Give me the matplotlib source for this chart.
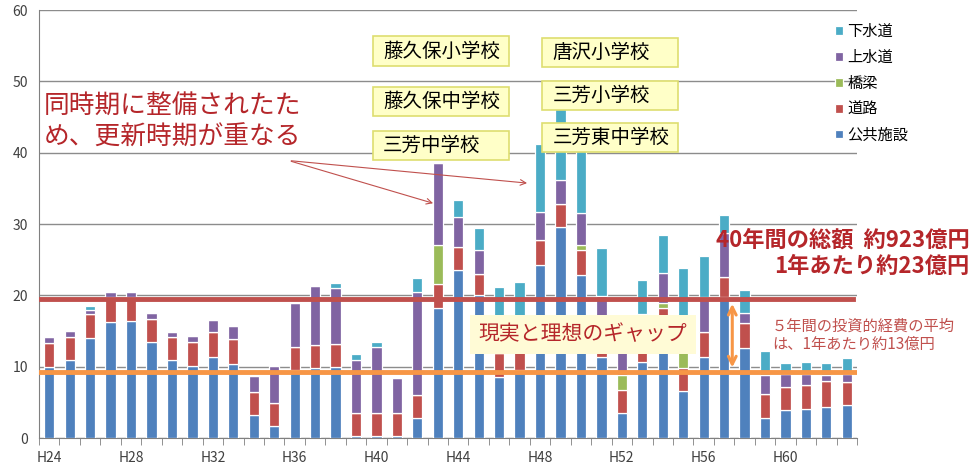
import numpy as np
import matplotlib.pyplot as plt
from matplotlib.patches import FancyArrowPatch, Rectangle

plt.rcParams['font.family'] = ['Noto Sans CJK JP', 'DejaVu Sans']

# -------------------------------
# データ（億円）
# -------------------------------
nendo = ['H%d' % n for n in range(24, 64)]
shisetsu = [9.9, 11.0, 14.0, 16.3, 16.4, 13.5, 11.0, 10.1, 11.4, 10.4,
            3.2, 1.7, 9.5, 9.8, 9.9, 0.3, 0.3, 0.3, 2.8, 18.2,
            23.6, 20.0, 8.6, 9.5, 24.3, 29.6, 22.9, 11.4, 3.5, 10.7,
            15.5, 6.6, 11.4, 19.8, 12.6, 2.8, 3.9, 4.0, 4.4, 4.6]
doro = [3.4, 3.2, 3.4, 3.4, 3.3, 3.2, 3.1, 3.4, 3.5, 3.5,
        3.3, 3.2, 3.3, 3.2, 3.3, 3.2, 3.2, 3.2, 3.2, 3.4,
        3.2, 3.0, 3.3, 3.3, 3.5, 3.2, 3.4, 2.1, 3.2, 2.3,
        2.7, 3.2, 3.4, 2.8, 3.5, 3.4, 3.3, 3.4, 3.6, 3.2]
kyoryo = [0, 0, 0, 0, 0, 0, 0, 0, 0, 0,
          0, 0, 0, 0, 0, 0, 0, 0, 0, 5.5,
          0, 0, 0, 0, 0, 0, 0.8, 0, 2.1, 0,
          0.7, 2.5, 0, 0, 0, 0, 0, 0, 0, 0]
josuido = [0.9, 0.8, 0.6, 0.8, 0.8, 0.8, 0.8, 0.8, 1.7, 1.8,
           2.2, 5.2, 6.1, 8.3, 7.8, 7.4, 9.3, 4.9, 14.4, 11.4,
           4.2, 3.4, 4.5, 3.5, 3.9, 3.4, 4.4, 6.4, 3.3, 4.4,
           4.2, 0, 5.0, 6.1, 1.4, 2.6, 1.8, 1.6, 0.8, 1.2]
gesuido = [0, 0, 0.5, 0, 0, 0, 0, 0, 0, 0,
           0, 0, 0, 0, 0.7, 0.9, 0.6, 0, 2.0, 0,
           2.3, 3.1, 4.8, 5.6, 9.5, 10.8, 10.5, 6.7, 0, 4.8,
           5.4, 11.6, 5.7, 2.6, 3.2, 3.4, 1.5, 1.7, 1.7, 2.2]

series = [('公共施設', shisetsu, '#4f81bd'),
          ('道路', doro, '#c0504d'),
          ('橋梁', kyoryo, '#9bbb59'),
          ('上水道', josuido, '#8064a2'),
          ('下水道', gesuido, '#4bacc6')]

gakko_hidari = ['藤久保小学校', '藤久保中学校', '三芳中学校']
gakko_migi = ['唐沢小学校', '三芳小学校', '三芳東中学校']

risou = 19.5     # 更新に必要な額（1年あたり）
jisseki = 9.2    # 投資的経費の平均

# -------------------------------
# 描画
# -------------------------------
fig = plt.figure(figsize=(9.78, 4.68), dpi=100)
ax = fig.add_axes([0.0399, 0.0641, 0.8364, 0.9145])

x = np.arange(len(nendo))
bottom = np.zeros(len(nendo))
for nome, vals, cor in series:
    vals = np.array(vals)
    ax.bar(x, vals, 0.5, bottom=bottom, color=cor, edgecolor='white',
           linewidth=0.9, label=nome, zorder=3)
    bottom += vals

ax.set_xlim(-0.5, len(nendo) - 0.5)
ax.set_ylim(0, 60)
ax.set_yticks(range(0, 61, 10))
ax.yaxis.grid(True, color='#8c8c8c', linewidth=1.0, zorder=0)
ax.tick_params(axis='y', length=0, labelsize=10, colors='#404040', pad=8)
ax.set_xticks(np.arange(-0.5, len(nendo), 1), minor=True)
ax.set_xticks(x[::4])
ax.set_xticklabels(nendo[::4], fontsize=10, color='#404040')
ax.tick_params(axis='x', which='major', length=0, pad=9)
ax.tick_params(axis='x', which='minor', length=5, color='#808080', direction='out')
for lado in ['top', 'right']:
    ax.spines[lado].set_visible(False)
ax.spines['left'].set_color('#808080')
ax.spines['bottom'].set_color('#808080')

# 基準線
ax.axhline(risou, xmin=0, xmax=0.995, color='#c0504d', linewidth=3.5, zorder=4)
ax.axhline(jisseki, color='#f79646', linewidth=3.5, zorder=4)
ax.add_patch(FancyArrowPatch((33.4, risou - 0.3), (33.4, jisseki + 0.3),
                             arrowstyle='<->', mutation_scale=14,
                             color='#f79646', linewidth=2.2, zorder=5))

# 凡例
h, l = ax.get_legend_handles_labels()
fig.legend(h[::-1], l[::-1], loc='upper left', bbox_to_anchor=(0.84, 0.98),
           frameon=False, fontsize=11, handlelength=0.5, handleheight=0.5,
           handletextpad=0.3, labelspacing=0.58)

vermelho = '#b5262a'
ax.text(-0.25, 48.2, '同時期に整備されたた\nめ、更新時期が重なる', fontsize=18.5,
        color=vermelho, va='top', linespacing=1.25, zorder=6)
for alvo in [(18.9, 32.8), (23.5, 35.7)]:
    ax.annotate('', xy=alvo, xytext=(11.7, 38.9),
                arrowprops=dict(arrowstyle='->', color='#c0504d', lw=0.8),
                zorder=6)

# 学校名の吹き出し
for lx, ys, nomes in [(15.83, [52.2, 45.1, 39.0], gakko_hidari),
                      (24.1, [52.0, 46.0, 40.1], gakko_migi)]:
    for y0, nome in zip(ys, nomes):
        ax.add_patch(Rectangle((lx, y0), 6.65, 4.1, fc='#ffffc8', ec='#dede70',
                               lw=1.2, zorder=7))
        ax.text(lx + 0.5, y0 + 2.05, nome, fontsize=14, va='center',
                ha='left', zorder=8)

ax.text(21.0, 14.5, '現実と理想のギャップ', fontsize=15, color=vermelho,
        va='center', ha='left', zorder=7,
        bbox=dict(boxstyle='square,pad=0.4', fc='#fffbd6', ec='none'))

ax.text(45.0, 27.8, '40年間の総額  約923億円', fontsize=16, color=vermelho,
        ha='right', va='center', fontweight='bold', zorder=7, clip_on=False)
ax.text(45.0, 24.0, '1年あたり約23億円', fontsize=16, color=vermelho,
        ha='right', va='center', fontweight='bold', zorder=7, clip_on=False)
ax.text(35.35, 14.4, '５年間の投資的経費の平均\nは、1年あたり約13億円', fontsize=11,
        color='#c0504d', ha='left', va='center', linespacing=1.15, zorder=7,
        clip_on=False)

fig.savefig('out.png', dpi=100)
